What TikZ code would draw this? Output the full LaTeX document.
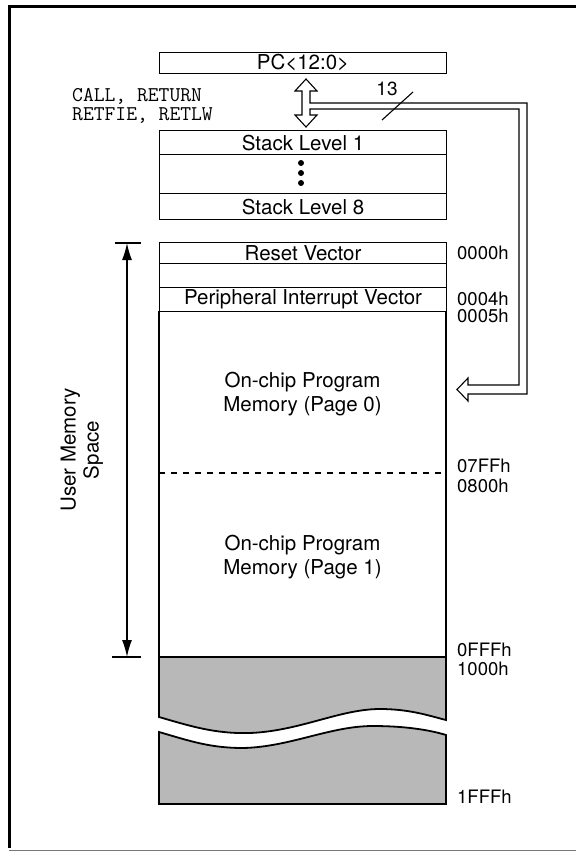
\documentclass[tikz,border=0pt]{standalone}
\usepackage{fontspec}
\setmainfont{TeX Gyre Heros}
\usetikzlibrary{arrows.meta}
\definecolor{shade}{RGB}{184,184,184}
\definecolor{framegray}{RGB}{120,120,120}
\tikzset{
  rowbox/.style={draw, line width=1.1pt, inner sep=0pt, anchor=north west},
  lbl/.style={font=\fontsize{20.5}{23}\selectfont},
  addr/.style={anchor=west, inner sep=0pt, font=\fontsize{18.5}{20}\selectfont},
  code/.style={anchor=west, inner sep=0pt, font=\ttfamily\fontsize{21}{22}\selectfont},
  bus/.style={draw, fill=white, line width=1.1pt, line join=miter},
  greyblk/.style={draw, fill=shade, line width=1.8pt},
}
\begin{document}
\begin{tikzpicture}[x=1pt, y=-1pt]
\useasboundingbox (0,0) rectangle (576,851);
% frame
\draw[line width=3pt] (576,7) -- (9,7) -- (9,848);
\draw[framegray, line width=1pt] (9,850) -- (576,850);

% PC and stack
\node[rowbox, lbl, minimum width=287pt, minimum height=21pt] (pc) at (159,52) {PC\textless 12:0\textgreater};
\node[rowbox, lbl, minimum width=287pt, minimum height=24pt] (s1) at (159,130) {Stack Level 1};
\node[rowbox, minimum width=287pt, minimum height=39pt] (sdots) at (159,154) {};
\node[rowbox, lbl, minimum width=287pt, minimum height=26pt] (s8) at (159,193) {Stack Level 8};
\foreach \yy in {163,173,183} \fill (301,\yy) circle (3pt);

\node[code] (c1) at (72,96) {CALL, RETURN};
\node[code] (c2) at (72,116) {RETFIE, RETLW};

% double arrow with bus to memory
\draw[bus] (306,79) -- (317,91) -- (310,91) -- (310,103) -- (527,103) -- (527,394)
  -- (468,394) -- (468,401) -- (457,389.5) -- (468,378) -- (468,385) -- (519,385)
  -- (519,109) -- (310,109) -- (310,115) -- (317,115) -- (306,127) -- (295,115)
  -- (302,115) -- (302,91) -- (295,91) -- cycle;
\draw[line width=1.1pt] (382,120) -- (413,92);
\node[font=\fontsize{19}{20}\selectfont, inner sep=0pt] (n13) at (387,89) {13};

% memory map
\node[rowbox, lbl, minimum width=287pt, minimum height=21pt] (reset) at (159,242) {Reset Vector};
\node[rowbox, minimum width=287pt, minimum height=24pt] (blank) at (159,263) {};
\node[rowbox, lbl, minimum width=287pt, minimum height=24pt] (piv) at (159,287) {Peripheral Interrupt Vector};
\draw[line width=1.3pt] (159,311) -- (159,657) (446,311) -- (446,657);
\draw[line width=1.1pt, dash pattern=on 6pt off 6pt] (159,473) -- (446,473);
\node[lbl, align=center, inner sep=0pt] (p0) at (302.5,394) {On-chip Program\\[1pt]Memory (Page 0)};
\node[lbl, align=center, inner sep=0pt] (p1) at (302.5,557) {On-chip Program\\[1pt]Memory (Page 1)};

% unimplemented region
\draw[greyblk] (159,657) -- (446,657) -- (446,720)
  .. controls (430,716) and (410,709) .. (380,709)
  .. controls (340,709) and (300,731) .. (250,733)
  .. controls (215,734) and (190,726) .. (159,717) -- cycle;
\draw[greyblk] (159,732)
  .. controls (190,741) and (210,748) .. (243,748)
  .. controls (290,747) and (330,726) .. (373,726)
  .. controls (405,726) and (430,730) .. (446,735)
  -- (446,804) -- (159,804) -- cycle;

% addresses
\node[addr] (a0) at (457,253) {0000h};
\node[addr] (a4) at (457,299) {0004h};
\node[addr] (a5) at (457,316) {0005h};
\node[addr] (a7ff) at (457,466) {07FFh};
\node[addr] (a800) at (457,486) {0800h};
\node[addr] (afff) at (457,650) {0FFFh};
\node[addr] (a1000) at (457,669) {1000h};
\node[addr] (a1fff) at (457,797) {1FFFh};

% user memory space
\coordinate (umtop) at (127,243);
\coordinate (umbot) at (127,657);
\draw[line width=1.2pt] (115,243) -- (141,243);
\draw[line width=1.2pt] (112,657) -- (141,657);
\draw[line width=1.4pt, {Latex[length=17pt,width=10pt]}-{Latex[length=17pt,width=10pt]}] (umtop) -- (umbot);
\node[lbl, align=center, rotate=90, inner sep=0pt] (ums) at (82,450) {User Memory\\Space};
\end{tikzpicture}
\end{document}
